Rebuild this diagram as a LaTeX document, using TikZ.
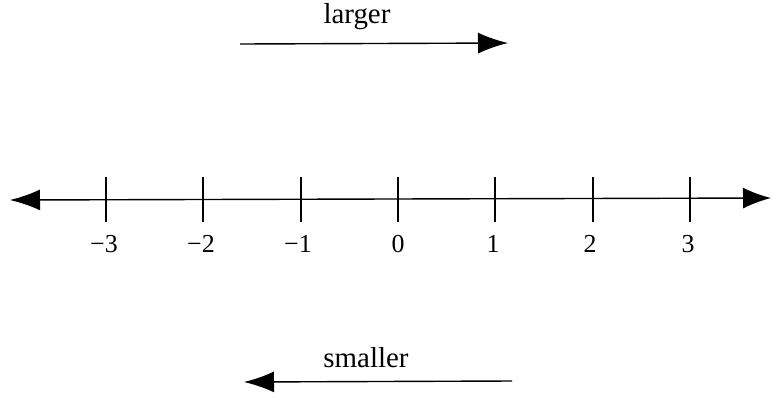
\documentclass[tikz,border=0pt]{standalone}
\usepackage{fontspec}
\setmainfont{Liberation Serif}
\usetikzlibrary{arrows.meta}
\begin{document}
\begin{tikzpicture}[x=1bp,y=-1bp,
  head/.style={Latex[length=30bp,width=21bp]},
  axisline/.style={line width=1.4bp,{Latex[length=30bp,width=21bp]}-{Latex[length=28bp,width=21bp]}},
  dirarrow/.style={line width=1.4bp,-{Latex[length=30bp,width=21bp]}},
  tick/.style={line width=1.8bp},
  lab/.style={font=\fontsize{26}{28}\selectfont, inner sep=0pt},
  word/.style={font=\fontsize{29}{32}\selectfont, inner sep=0pt}]
\useasboundingbox (0,0) rectangle (773,396);
% axis
\coordinate (L) at (10,200);
\coordinate (R) at (771,198);
\draw[axisline] (L) -- (R);
% ticks and labels
\foreach \x/\t/\lx in {106/−3/104, 203/−2/201, 301/−1/298, 398/0/398, 495/1/493, 593/2/590, 690/3/688}{
  \coordinate (top\x) at (\x,177);
  \coordinate (bot\x) at (\x,222);
  \draw[tick] (top\x) -- (bot\x);
  \node[lab] (n\x) at (\lx,244) {\t};
}
% larger
\node[word] (larger) at (357,17) {larger};
\coordinate (a1) at (240,44);
\coordinate (a2) at (508,43);
\draw[dirarrow] (a1) -- (a2);
% smaller
\node[word] (smaller) at (366,358) {smaller};
\coordinate (b1) at (512,381);
\coordinate (b2) at (244,382);
\draw[dirarrow] (b1) -- (b2);
\end{tikzpicture}
\end{document}
